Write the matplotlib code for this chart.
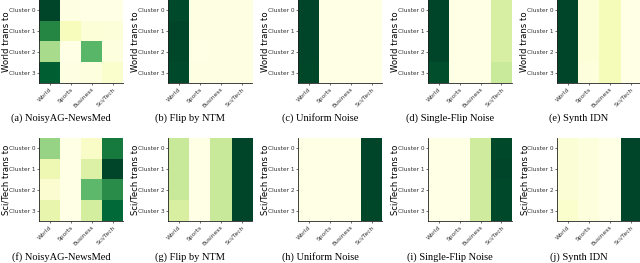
"""
Cluster-to-class transition heatmaps for NoisyAG-NewsMed and synthetic noise types
"""

import numpy as np
import matplotlib

matplotlib.use("Agg")
import matplotlib.pyplot as plt

classes = ["World", "Sports", "Business", "Sci/Tech"]
clusters = ["Cluster 0", "Cluster 1", "Cluster 2", "Cluster 3"]

# row 1: World trans to
world_newsmed = [
    [0.97, 0.02, 0.01, 0.01],
    [0.72, 0.12, 0.05, 0.04],
    [0.38, 0.01, 0.56, 0.03],
    [0.88, 0.02, 0.03, 0.08],
]
world_ntm = [
    [0.93, 0.02, 0.02, 0.02],
    [0.95, 0.02, 0.02, 0.02],
    [0.94, 0.01, 0.02, 0.02],
    [0.93, 0.02, 0.02, 0.02],
]
world_uniform = [
    [0.97, 0.01, 0.01, 0.01],
    [0.97, 0.01, 0.01, 0.01],
    [0.97, 0.01, 0.01, 0.01],
    [0.96, 0.01, 0.01, 0.01],
]
world_single = [
    [0.78, 0.00, 0.00, 0.20],
    [0.78, 0.00, 0.00, 0.20],
    [0.78, 0.00, 0.00, 0.20],
    [0.75, 0.00, 0.00, 0.23],
]
world_idn = [
    [0.80, 0.07, 0.14, 0.04],
    [0.80, 0.07, 0.14, 0.04],
    [0.80, 0.07, 0.14, 0.04],
    [0.80, 0.06, 0.14, 0.04],
]

# row 2: Sci/Tech trans to
sci_newsmed = [
    [0.30, 0.01, 0.07, 0.55],
    [0.12, 0.01, 0.17, 0.69],
    [0.05, 0.01, 0.39, 0.50],
    [0.14, 0.01, 0.19, 0.60],
]
sci_ntm = [
    [0.19, 0.01, 0.19, 0.61],
    [0.19, 0.01, 0.19, 0.61],
    [0.19, 0.01, 0.19, 0.61],
    [0.16, 0.01, 0.19, 0.61],
]
sci_uniform = [
    [0.01, 0.01, 0.01, 0.97],
    [0.01, 0.01, 0.01, 0.97],
    [0.01, 0.01, 0.01, 0.97],
    [0.01, 0.01, 0.01, 0.96],
]
sci_single = [
    [0.00, 0.00, 0.22, 0.78],
    [0.00, 0.00, 0.22, 0.79],
    [0.00, 0.00, 0.22, 0.78],
    [0.00, 0.00, 0.22, 0.78],
]
sci_idn = [
    [0.07, 0.05, 0.03, 0.85],
    [0.07, 0.05, 0.03, 0.85],
    [0.07, 0.05, 0.03, 0.85],
    [0.09, 0.05, 0.03, 0.85],
]

captions_top = ["(a) NoisyAG-NewsMed", "(b) Flip by NTM", "(c) Uniform Noise",
                "(d) Single-Flip Noise", "(e) Synth IDN"]
captions_bottom = ["(f) NoisyAG-NewsMed", "(g) Flip by NTM", "(h) Uniform Noise",
                   "(i) Single-Flip Noise", "(j) Synth IDN"]

rows = [
    ("World trans to", [world_newsmed, world_ntm, world_uniform, world_single, world_idn], captions_top),
    ("Sci/Tech trans to", [sci_newsmed, sci_ntm, sci_uniform, sci_single, sci_idn], captions_bottom),
]

W, H = 640, 263
fig = plt.figure(figsize=(W / 100, H / 100), dpi=100)

lefts = [39, 168, 298, 428, 557]
tops = [0, 138]
size_w, size_h = 84, 83
cap_y = [118, 257]

for r, (ylab, mats, caps) in enumerate(rows):
    for c, mat in enumerate(mats):
        x0 = lefts[c]
        y0 = tops[r]
        ax = fig.add_axes([x0 / W, 1 - (y0 + size_h) / H, size_w / W, size_h / H])
        ax.imshow(np.array(mat), cmap="YlGn", aspect="auto", interpolation="nearest")
        ax.set_xticks(range(len(classes)))
        ax.set_xticklabels(classes, rotation=45, ha="right", rotation_mode="anchor", fontsize=4.3)
        ax.set_yticks(range(len(clusters)))
        ax.set_yticklabels(clusters, fontsize=4.2)
        ax.tick_params(length=1.5, width=0.5, pad=1, colors="#333333")
        ax.set_ylabel(ylab, fontsize=6.1)
        # fixed label spot so the leftmost column stays inside the figure
        ax.yaxis.set_label_coords(-28 / size_w, 0.5)
        for side in ["top", "right"]:
            ax.spines[side].set_visible(False)
        for side in ["left", "bottom"]:
            ax.spines[side].set_linewidth(0.6)
            ax.spines[side].set_color("#222222")
        fig.text((x0 + size_w / 2 - 20) / W, 1 - cap_y[r] / H, caps[c],
                 family="Liberation Serif", fontsize=7.5, ha="center", va="center")

fig.savefig("out.png", dpi=100)
